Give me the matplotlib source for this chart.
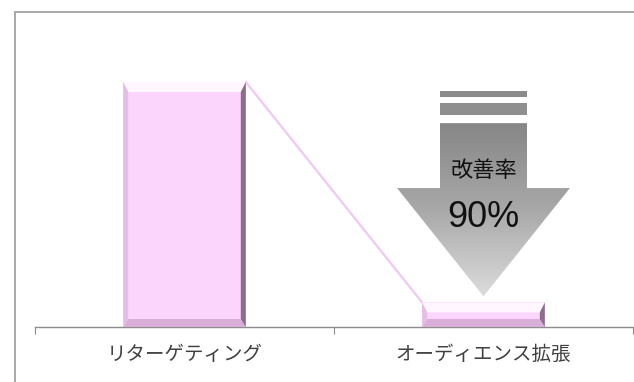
import matplotlib
matplotlib.use("Agg")
import matplotlib.pyplot as plt
import numpy as np
from matplotlib.patches import Polygon
from matplotlib.lines import Line2D
from matplotlib.colors import LinearSegmentedColormap

plt.rcParams['font.family'] = ['Noto Sans CJK JP', 'DejaVu Sans']

categories = ['リターゲティング', 'オーディエンス拡張']
values = [100, 10]
improve = (1 - values[1] / values[0]) * 100

fig = plt.figure(figsize=(6.34, 3.82), dpi=100)
ax = fig.add_axes([35 / 634, 55 / 382, 598 / 634, 307 / 382])

x = np.arange(len(categories))
bars = ax.bar(x, values, width=0.41, color='#fcd5fc', edgecolor='none', zorder=2)
ax.set_xlim(-0.5, 1.5)
ax.set_ylim(0, 125.3)

# pixel -> data unit factors for the bevel edges
px_x = (ax.get_xlim()[1] - ax.get_xlim()[0]) / ax.bbox.width
px_y = (ax.get_ylim()[1] - ax.get_ylim()[0]) / ax.bbox.height


def bevel(bar, side=5, top=10, bottom=8):
    x0 = bar.get_x()
    x1 = x0 + bar.get_width()
    y0 = bar.get_y()
    y1 = y0 + bar.get_height()
    bx = side * px_x
    bt = top * px_y
    bb = bottom * px_y
    parts = [
        ([(x0, y1), (x1, y1), (x1 - bx, y1 - bt), (x0 + bx, y1 - bt)], '#fff6ff'),
        ([(x0, y0), (x1, y0), (x1 - bx, y0 + bb), (x0 + bx, y0 + bb)], '#d9aed9'),
        ([(x0, y0), (x0, y1), (x0 + bx, y1 - bt), (x0 + bx, y0 + bb)], '#e6bde6'),
        ([(x1, y0), (x1, y1), (x1 - bx, y1 - bt), (x1 - bx, y0 + bb)], '#8c6e8c'),
    ]
    for pts, c in parts:
        ax.add_patch(Polygon(pts, closed=True, facecolor=c, edgecolor='none', zorder=3))


for b in bars:
    bevel(b)

# connector from the first bar's top right corner to the second bar's top left
b0, b1 = bars[0], bars[1]
ax.plot([b0.get_x() + b0.get_width(), b1.get_x()], [values[0], values[1]],
        color='#f2c6f2', lw=1.6, zorder=1)

# down arrow over the second category
cx = x[1]
shaft = 0.1455
head = 0.289
shaft_top = 83.2
head_base = 56.7
tip = values[1] + 2.5
arrow_pts = [(cx - shaft, shaft_top), (cx + shaft, shaft_top), (cx + shaft, head_base),
             (cx + head, head_base), (cx, tip), (cx - head, head_base), (cx - shaft, head_base)]
arrow = Polygon(arrow_pts, closed=True, facecolor='none', edgecolor='none', zorder=4)
ax.add_patch(arrow)
grad = np.linspace(0, 1, 256).reshape(-1, 1)
cmap = LinearSegmentedColormap.from_list('arr', ['#868686', '#a8a8a8', '#dcdcdc'])
img = ax.imshow(grad, cmap=cmap, aspect='auto', origin='upper',
                extent=[cx - head, cx + head, tip, shaft_top], zorder=4)
img.set_clip_path(arrow)
ax.set_xlim(-0.5, 1.5)
ax.set_ylim(0, 125.3)

# stripes above the arrow
for ylo, yhi, c in [(93.9, 96.3, '#8a8a8a'), (86.5, 91.4, '#8f8f8f')]:
    ax.add_patch(Polygon([(cx - shaft, ylo), (cx + shaft, ylo), (cx + shaft, yhi), (cx - shaft, yhi)],
                         closed=True, facecolor=c, edgecolor='none', zorder=4))

ax.text(cx, 64, '改善率', ha='center', va='center', fontsize=16, color='#111111', zorder=5)
ax.text(cx, 44.5, f'{improve:.0f}%', ha='center', va='center', fontsize=26, color='#111111',
        family=['Liberation Sans', 'DejaVu Sans'], zorder=5)

# axis: only the bottom line with outward ticks at category boundaries
for s in ['left', 'right', 'top']:
    ax.spines[s].set_visible(False)
ax.spines['bottom'].set_color('#8c8c8c')
ax.spines['bottom'].set_linewidth(1.0)
ax.set_yticks([])
ax.set_xticks([-0.5, 0.5, 1.5])
ax.set_xticklabels([])
ax.tick_params(axis='x', which='major', direction='out', length=5, color='#8c8c8c')
ax.set_xticks(x, minor=True)
ax.set_xticklabels(categories, minor=True, fontsize=14, color='#404040')
ax.tick_params(axis='x', which='minor', length=0, pad=12)
ax.set_facecolor('none')

# outer frame of the chart area
fig.add_artist(Line2D([14.5 / 634, 14.5 / 634], [0, 1 - 11.5 / 382],
                      transform=fig.transFigure, color='#a8a8a8', lw=1.4))
fig.add_artist(Line2D([14.5 / 634, 1], [1 - 11.5 / 382, 1 - 11.5 / 382],
                      transform=fig.transFigure, color='#a8a8a8', lw=1.4))

fig.savefig('out.png', dpi=100)
